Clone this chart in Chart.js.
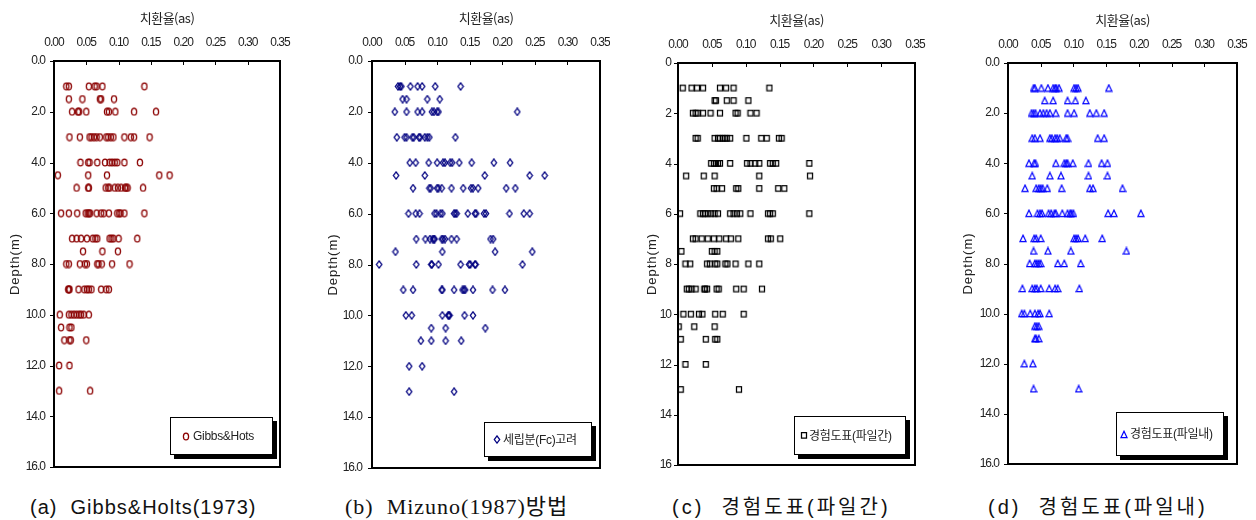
<!DOCTYPE html>
<html>
<head>
<meta charset="utf-8">
<script src="https://cdn.jsdelivr.net/npm/chart.js@4/dist/chart.umd.min.js"></script>
<style>
  html, body { margin: 0; padding: 0; background: #fff; }
  body { width: 1256px; height: 520px; position: relative; overflow: hidden; }
  .panel { position: absolute; top: 0; }
  .caption { position: absolute; top: 494px; white-space: pre; color: #111; font-size: 20px; line-height: 26px; }
</style>
</head>
<body>
<script>
// Depth levels (m) shared by all four panels
const depthLevels = [1.0, 1.5, 2.0, 3.0, 4.0, 4.5, 5.0, 6.0, 7.0, 7.5, 8.0, 9.0, 10.0, 10.5, 11.0, 12.0, 13.0];

// Replacement ratio (as) per depth level — (a) Gibbs & Holtz
const gibbsAs = [
  [0.019, 0.023, 0.054, 0.063, 0.066, 0.075, 0.140],
  [0.023, 0.044, 0.071, 0.073, 0.093],
  [0.028, 0.037, 0.039, 0.050, 0.082, 0.085, 0.095, 0.124, 0.158],
  [0.024, 0.040, 0.055, 0.058, 0.062, 0.066, 0.071, 0.081, 0.084, 0.088, 0.092, 0.109, 0.119, 0.124, 0.148],
  [0.041, 0.053, 0.055, 0.067, 0.079, 0.086, 0.090, 0.094, 0.098, 0.109, 0.133],
  [0.006, 0.053, 0.082, 0.163, 0.179],
  [0.035, 0.053, 0.054, 0.080, 0.084, 0.086, 0.094, 0.099, 0.104, 0.110, 0.112, 0.114, 0.138],
  [0.011, 0.023, 0.036, 0.049, 0.052, 0.054, 0.056, 0.066, 0.073, 0.077, 0.085, 0.098, 0.101, 0.103, 0.109, 0.140],
  [0.028, 0.035, 0.042, 0.051, 0.060, 0.064, 0.067, 0.086, 0.089, 0.092, 0.100, 0.129],
  [0.045, 0.075, 0.099],
  [0.019, 0.023, 0.040, 0.048, 0.051, 0.067, 0.069, 0.074, 0.090, 0.117],
  [0.022, 0.023, 0.024, 0.038, 0.047, 0.051, 0.054, 0.058, 0.073, 0.081, 0.085],
  [0.009, 0.023, 0.027, 0.031, 0.035, 0.039, 0.042, 0.046, 0.054],
  [0.011, 0.024, 0.027],
  [0.016, 0.024, 0.026, 0.050],
  [0.008, 0.024],
  [0.008, 0.056]
];

// (b) Mizuno, fines content considered
const mizunoAs = [
  [0.040, 0.043, 0.045, 0.059, 0.070, 0.077, 0.097, 0.136],
  [0.047, 0.053, 0.085, 0.104],
  [0.035, 0.053, 0.070, 0.077, 0.092, 0.095, 0.100, 0.102, 0.223],
  [0.038, 0.050, 0.053, 0.062, 0.064, 0.072, 0.074, 0.081, 0.085, 0.088, 0.128],
  [0.058, 0.067, 0.087, 0.100, 0.109, 0.112, 0.120, 0.123, 0.134, 0.153, 0.187, 0.212],
  [0.037, 0.081, 0.173, 0.242, 0.265],
  [0.063, 0.088, 0.090, 0.100, 0.102, 0.107, 0.122, 0.140, 0.152, 0.155, 0.163, 0.206, 0.220],
  [0.056, 0.067, 0.073, 0.096, 0.099, 0.105, 0.108, 0.126, 0.128, 0.130, 0.147, 0.158, 0.160, 0.172, 0.175, 0.211, 0.233, 0.242],
  [0.068, 0.082, 0.089, 0.093, 0.095, 0.096, 0.107, 0.109, 0.112, 0.122, 0.130, 0.182, 0.186],
  [0.036, 0.108, 0.189, 0.246],
  [0.011, 0.068, 0.091, 0.092, 0.102, 0.136, 0.149, 0.151, 0.158, 0.159, 0.231],
  [0.048, 0.063, 0.107, 0.108, 0.126, 0.139, 0.141, 0.143, 0.155, 0.185, 0.204],
  [0.052, 0.061, 0.108, 0.117, 0.118, 0.119, 0.142, 0.155],
  [0.091, 0.113, 0.174],
  [0.075, 0.091, 0.113, 0.137],
  [0.057, 0.077],
  [0.057, 0.126]
];

// (c) Empirical chart, between piles
const betweenAs = [
  [0.007, 0.020, 0.028, 0.037, 0.062, 0.071, 0.082, 0.135],
  [0.054, 0.056, 0.072, 0.082, 0.104],
  [0.022, 0.026, 0.029, 0.037, 0.048, 0.062, 0.085, 0.088, 0.107, 0.116],
  [0.026, 0.029, 0.054, 0.059, 0.062, 0.066, 0.069, 0.072, 0.077, 0.101, 0.123, 0.131, 0.149, 0.153],
  [0.049, 0.053, 0.056, 0.059, 0.062, 0.077, 0.102, 0.107, 0.114, 0.120, 0.136, 0.140, 0.145, 0.194],
  [0.012, 0.038, 0.054, 0.120, 0.195],
  [0.053, 0.057, 0.065, 0.086, 0.089, 0.120, 0.148, 0.157],
  [0.003, 0.033, 0.037, 0.040, 0.044, 0.049, 0.054, 0.059, 0.077, 0.082, 0.087, 0.092, 0.107, 0.133, 0.136, 0.140, 0.194],
  [0.022, 0.026, 0.035, 0.044, 0.053, 0.061, 0.071, 0.078, 0.089, 0.133, 0.137, 0.151],
  [0.005, 0.050, 0.054, 0.058],
  [0.011, 0.018, 0.043, 0.047, 0.055, 0.058, 0.070, 0.073, 0.085, 0.104, 0.120],
  [0.013, 0.016, 0.020, 0.026, 0.039, 0.040, 0.043, 0.057, 0.060, 0.086, 0.097, 0.124],
  [0.008, 0.019, 0.031, 0.036, 0.055, 0.066, 0.097],
  [0.001, 0.024, 0.054],
  [0.004, 0.041, 0.055, 0.058],
  [0.011, 0.041],
  [0.004, 0.090]
];

// (d) Empirical chart, within pile
const withinAs = [
  [0.039, 0.041, 0.051, 0.061, 0.069, 0.072, 0.074, 0.078, 0.101, 0.104, 0.107, 0.154],
  [0.056, 0.069, 0.091, 0.103, 0.119],
  [0.036, 0.039, 0.042, 0.049, 0.054, 0.059, 0.064, 0.073, 0.091, 0.101, 0.125, 0.135, 0.147],
  [0.037, 0.041, 0.049, 0.064, 0.067, 0.072, 0.075, 0.079, 0.089, 0.091, 0.137, 0.147],
  [0.032, 0.040, 0.042, 0.073, 0.086, 0.089, 0.091, 0.099, 0.123, 0.143, 0.152],
  [0.037, 0.064, 0.081, 0.123, 0.152],
  [0.026, 0.043, 0.047, 0.050, 0.053, 0.060, 0.082, 0.125, 0.130, 0.175],
  [0.032, 0.045, 0.049, 0.052, 0.062, 0.066, 0.071, 0.073, 0.083, 0.091, 0.095, 0.097, 0.100, 0.153, 0.162, 0.203],
  [0.023, 0.040, 0.043, 0.050, 0.101, 0.104, 0.107, 0.118, 0.144],
  [0.039, 0.061, 0.096, 0.181],
  [0.033, 0.041, 0.044, 0.047, 0.050, 0.076, 0.086, 0.111],
  [0.022, 0.037, 0.041, 0.044, 0.050, 0.063, 0.072, 0.076, 0.109],
  [0.021, 0.025, 0.034, 0.041, 0.046, 0.049, 0.063],
  [0.041, 0.044, 0.047],
  [0.041, 0.043, 0.047],
  [0.025, 0.038],
  [0.039, 0.108]
];

// Axis tick labels and texts
const asTickLabels = ['0.00', '0.05', '0.10', '0.15', '0.20', '0.25', '0.30', '0.35'];
const depthTickLabelsDec = ['0.0', '2.0', '4.0', '6.0', '8.0', '10.0', '12.0', '14.0', '16.0'];
const depthTickLabelsInt = ['0', '2', '4', '6', '8', '10', '12', '14', '16'];
const xTitle = '치환율(as)';
const yTitle = 'Depth(m)';
const seriesLabels = ['Gibbs&Hots', '세립분(Fc)고려', '경험도표(파일간)', '경험도표(파일내)'];
const captions = ['(a)  Gibbs&Holts(1973)', '(b)  Mizuno(1987)방법', '(c)  경험도표(파일간)', '(d)  경험도표(파일내)'];
const seriesValues = [gibbsAs, mizunoAs, betweenAs, withinAs];

// ---- layout of the four panels (page pixels) ----
const H = 480;
const panels = [
  { left: 0,   width: 300, plotL: 54,   plotR: 280,  plotT: 61, plotB: 467, xLabPad: 11, yLabPad: 9,  titleY: 18, yTitleX: 15,
    yTicks: depthTickLabelsDec, marker: 'ellipse', color: '#8b0000',
    legend: { w: 103, h: 38, gapR: 7, gapB: 12, mx: 16, tx: 23 },
    cap: { left: 30, font: '"Liberation Sans", Arial, sans-serif', ls: '1px', size: 20 } },
  { left: 305, width: 305, plotL: 372, plotR: 600, plotT: 61, plotB: 468, xLabPad: 11, yLabPad: 10, titleY: 18, yTitleX: 333,
    yTicks: depthTickLabelsDec, marker: 'diamond', color: '#000080',
    legend: { w: 108, h: 35, gapR: 8, gapB: 11, mx: 13, tx: 19 },
    cap: { left: 345, font: '"Liberation Serif", "Noto Sans CJK KR", serif', ls: '1px', size: 22 } },
  { left: 615, width: 315, plotL: 678, plotR: 915, plotT: 63, plotB: 465, xLabPad: 11, yLabPad: 7, titleY: 20, yTitleX: 652,
    yTicks: depthTickLabelsInt, marker: 'square', color: '#000000',
    legend: { w: 112, h: 39, gapR: 9, gapB: 10, mx: 10, tx: 15 },
    cap: { left: 672, font: '"Liberation Sans", "Noto Sans CJK KR", sans-serif', ls: '3px', size: 20 } },
  { left: 935, width: 321, plotL: 1008, plotR: 1237, plotT: 63, plotB: 464, xLabPad: 11, yLabPad: 9, titleY: 20, yTitleX: 968,
    yTicks: depthTickLabelsDec, marker: 'triangle', color: '#0000ff',
    legend: { w: 108, h: 44, gapR: 13, gapB: 8, mx: 8, tx: 14 },
    cap: { left: 988, font: '"Liberation Sans", "Noto Sans CJK KR", sans-serif', ls: '3px', size: 20 } }
];

// Hollow marker glyphs used as point styles
function makeMarker(kind, color) {
  const c = document.createElement('canvas');
  c.width = 8; c.height = 9;
  const g = c.getContext('2d');
  g.strokeStyle = color;
  g.lineWidth = 1.25;
  g.beginPath();
  if (kind === 'ellipse') {
    g.ellipse(4, 4.5, 2.6, 3.3, 0, 0, Math.PI * 2);
  } else if (kind === 'diamond') {
    g.moveTo(4, 0.9); g.lineTo(6.7, 4.5); g.lineTo(4, 8.1); g.lineTo(1.3, 4.5); g.closePath();
  } else if (kind === 'square') {
    g.rect(1.5, 1.5, 5, 5.5);
  } else {
    g.moveTo(4, 1.3); g.lineTo(7, 7.5); g.lineTo(1, 7.5); g.closePath();
  }
  g.stroke();
  return c;
}

// Frame, tick marks, axis titles and in-plot legend
const framePlugin = {
  id: 'frame',
  beforeDraw(chart) {
    chart.ctx.letterSpacing = '-1px';
  },
  afterDraw(chart, args, opts) {
    const { ctx, chartArea: a, scales } = chart;
    const s = opts.spec;
    ctx.save();
    ctx.letterSpacing = '0px';
    // plot border
    ctx.strokeStyle = '#000';
    ctx.lineWidth = 2;
    ctx.strokeRect(a.left, a.top, a.right - a.left, a.bottom - a.top);
    // inward ticks on the top axis
    ctx.lineWidth = 1;
    scales.x.ticks.forEach(t => {
      const px = Math.round(scales.x.getPixelForValue(t.value)) + 0.5;
      ctx.beginPath(); ctx.moveTo(px, a.top); ctx.lineTo(px, a.top + 4); ctx.stroke();
    });
    // outward ticks on the left axis
    scales.y.ticks.forEach(t => {
      const py = Math.round(scales.y.getPixelForValue(t.value)) + 0.5;
      ctx.beginPath(); ctx.moveTo(a.left - 4, py); ctx.lineTo(a.left, py); ctx.stroke();
    });
    // axis titles
    ctx.fillStyle = '#222';
    ctx.textAlign = 'center';
    ctx.textBaseline = 'middle';
    ctx.font = '13px "Noto Sans CJK KR", sans-serif';
    ctx.letterSpacing = '-0.5px';
    ctx.fillText(xTitle, (a.left + a.right) / 2, s.titleY);
    ctx.save();
    ctx.translate(s.yTitleX - s.left, (a.top + a.bottom) / 2);
    ctx.rotate(-Math.PI / 2);
    ctx.font = '13px "Liberation Sans", Arial, sans-serif';
    ctx.letterSpacing = '1px';
    ctx.fillText(yTitle, 0, 0);
    ctx.restore();
    // legend box with drop shadow
    const L = s.legend;
    const lx = a.right - L.gapR - L.w, ly = a.bottom - L.gapB - L.h;
    ctx.fillStyle = '#000';
    ctx.fillRect(lx + 4, ly + 4, L.w, L.h);
    ctx.fillStyle = '#fff';
    ctx.fillRect(lx, ly, L.w, L.h);
    ctx.strokeStyle = '#000';
    ctx.lineWidth = 1;
    ctx.strokeRect(lx + 0.5, ly + 0.5, L.w - 1, L.h - 1);
    const mk = chart.data.datasets[0].pointStyle;
    const cy = ly + L.h / 2;
    ctx.drawImage(mk, Math.round(lx + L.mx - mk.width / 2), Math.round(cy - mk.height / 2));
    ctx.fillStyle = '#222';
    ctx.textAlign = 'left';
    ctx.font = '12px "Liberation Sans", "Noto Sans CJK KR", sans-serif';
    ctx.letterSpacing = '-0.3px';
    ctx.fillText(chart.data.datasets[0].label, lx + L.tx, cy + 1);
    ctx.restore();
  }
};

// Label lookup by tick value (works for reversed scales too)
function labelFor(list, value, step) {
  const k = Math.round(value / step);
  return list[k] !== undefined ? list[k] : String(value);
}

panels.forEach((s, i) => {
  const div = document.createElement('div');
  div.className = 'panel';
  div.style.left = s.left + 'px';
  div.style.width = s.width + 'px';
  div.style.height = H + 'px';
  const cv = document.createElement('canvas');
  cv.width = s.width; cv.height = H;
  cv.style.width = s.width + 'px'; cv.style.height = H + 'px';
  div.appendChild(cv);
  document.body.appendChild(div);

  const cap = document.createElement('div');
  cap.className = 'caption';
  cap.style.left = s.cap.left + 'px';
  cap.style.fontFamily = s.cap.font;
  cap.style.letterSpacing = s.cap.ls;
  cap.style.fontSize = s.cap.size + 'px';
  cap.textContent = captions[i];
  document.body.appendChild(cap);

  const points = [];
  seriesValues[i].forEach((row, r) => row.forEach(v => points.push({ x: v, y: depthLevels[r] })));

  const tickFont = { family: '"Liberation Sans", Arial, sans-serif', size: 12 };

  new Chart(cv.getContext('2d'), {
    type: 'scatter',
    data: {
      datasets: [{
        label: seriesLabels[i],
        data: points,
        pointStyle: makeMarker(s.marker, s.color),
        pointRadius: 4,
        borderColor: s.color,
        backgroundColor: 'transparent'
      }]
    },
    options: {
      responsive: false,
      maintainAspectRatio: false,
      animation: false,
      devicePixelRatio: 1,
      events: [],
      layout: { padding: { left: 0, top: 0, right: s.left + s.width - s.plotR, bottom: H - s.plotB } },
      plugins: {
        legend: { display: false },
        tooltip: { enabled: false },
        frame: { spec: s }
      },
      scales: {
        x: {
          type: 'linear', position: 'top', min: 0, max: 0.35,
          grid: { display: false, drawTicks: false },
          border: { display: false },
          ticks: {
            stepSize: 0.05, autoSkip: false, maxRotation: 0, padding: s.xLabPad,
            color: '#222', font: tickFont,
            callback: v => labelFor(asTickLabels, v, 0.05)
          },
          afterFit: sc => { sc.height = s.plotT; sc.paddingLeft = 0; sc.paddingRight = 0; }
        },
        y: {
          type: 'linear', position: 'left', reverse: true, min: 0, max: 16,
          grid: { display: false, drawTicks: false },
          border: { display: false },
          ticks: {
            stepSize: 2, autoSkip: false, padding: s.yLabPad,
            color: '#222', font: tickFont,
            callback: v => labelFor(s.yTicks, v, 2)
          },
          afterFit: sc => { sc.width = s.plotL - s.left; sc.paddingTop = 0; sc.paddingBottom = 0; }
        }
      }
    },
    plugins: [framePlugin]
  });
});
</script>
</body>
</html>
